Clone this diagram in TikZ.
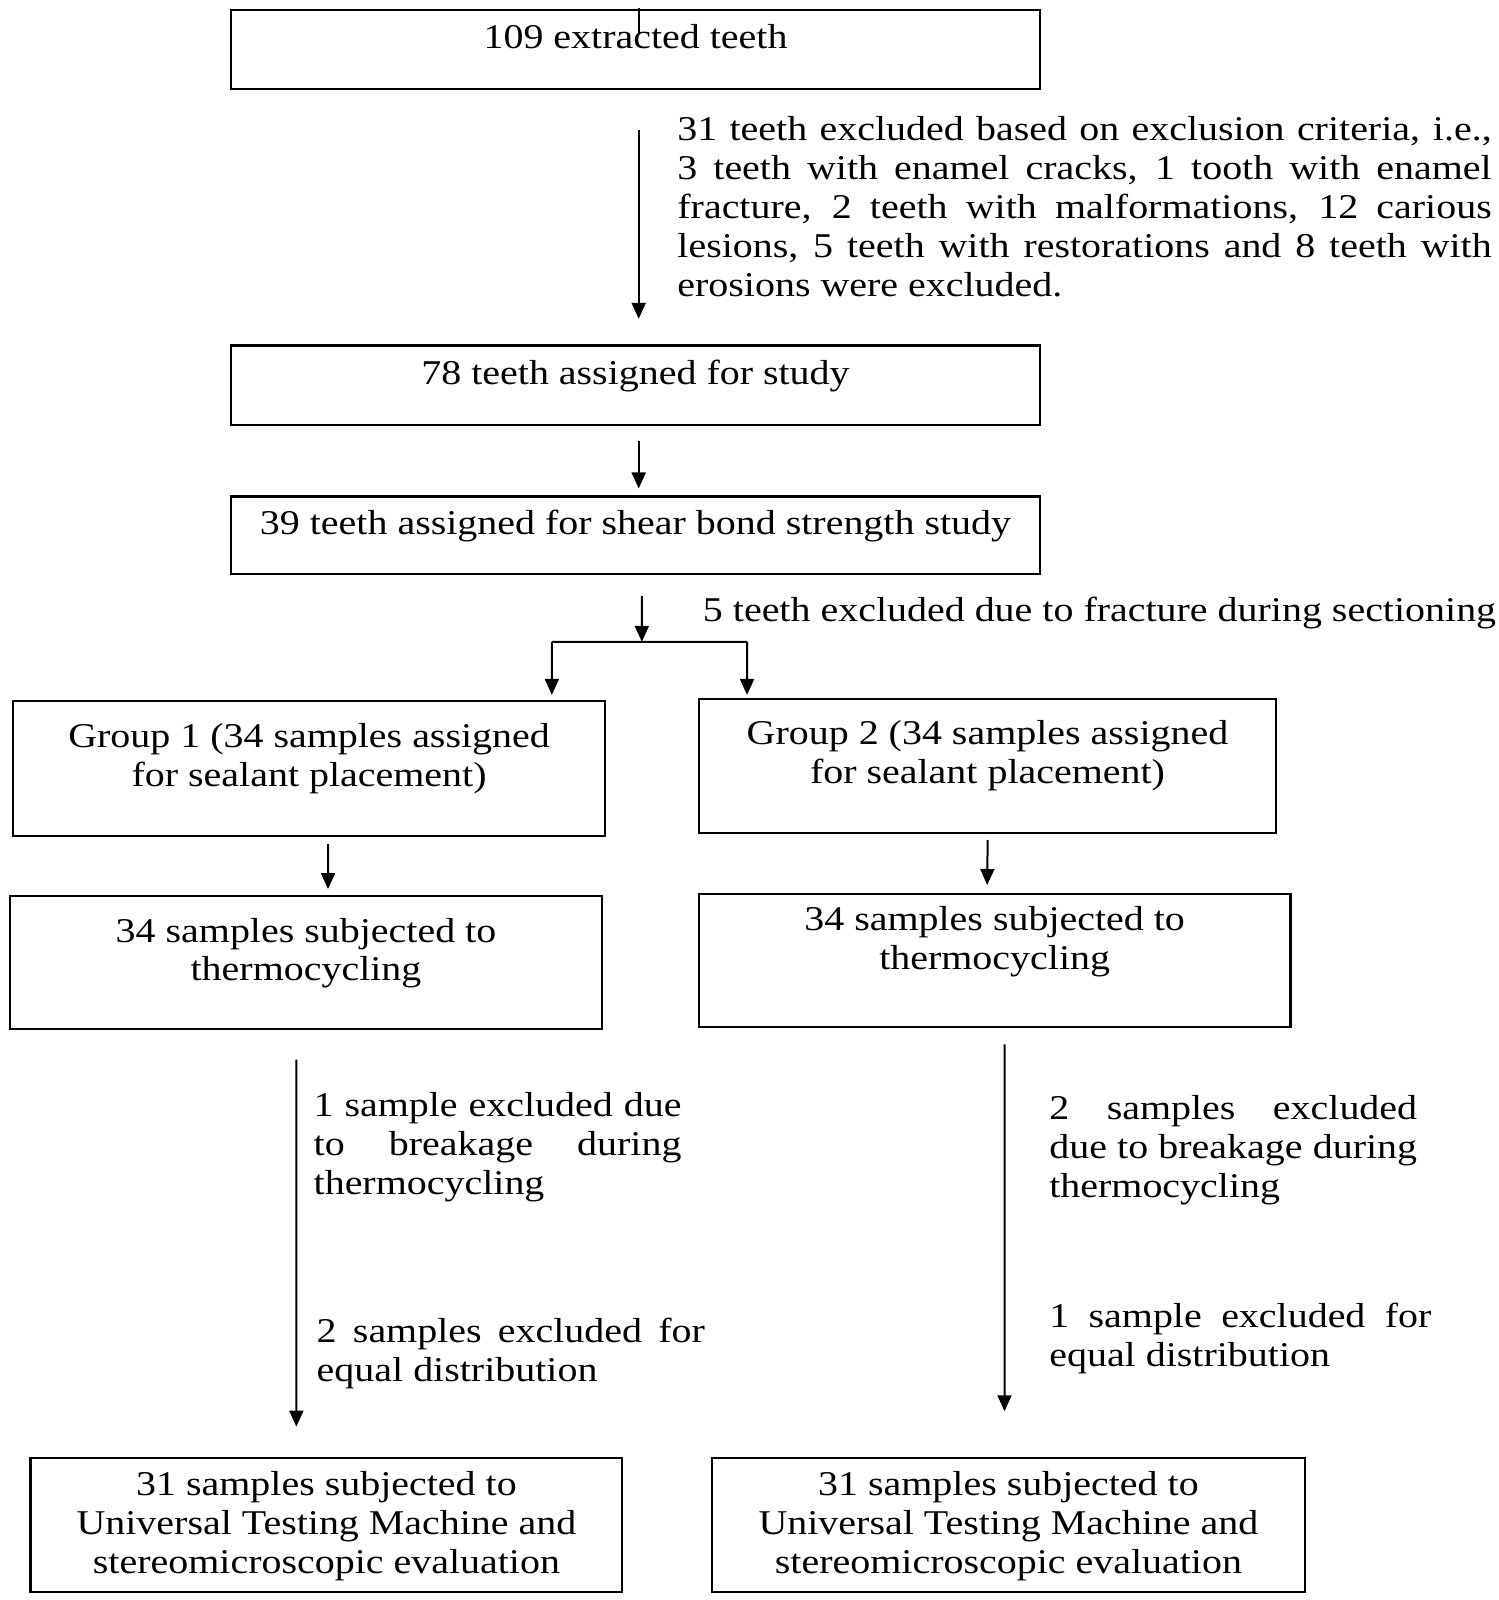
\documentclass[tikz,border=0pt]{standalone}
\usepackage{fontspec}
\setmainfont{Liberation Serif}[FakeStretch=1.15]
\usetikzlibrary{arrows.meta,calc}
\newcommand\bt[4]{\parbox[c][#2][t]{#1}{\centering\rule{0pt}{#3}#4\par}}
\newcommand\jt[2]{\parbox[t]{#1}{\rule{0pt}{12pt}#2\par}}
\begin{document}
\begin{tikzpicture}[x=0.5pt,y=-0.5pt,scale=1.0218,every node/.append style={transform shape},
  box/.style={draw=black,line width=1.2pt,inner sep=0pt,outer sep=0pt,anchor=north west,
    font=\fontsize{17}{19}\selectfont},
  side/.style={inner sep=0pt,outer sep=0pt,anchor=base west,font=\fontsize{17}{19}\selectfont},
  arr/.style={line width=1pt,-{Triangle[width=7pt,length=8pt]}},
  ln/.style={line width=1pt}]
\useasboundingbox (0,0) rectangle (1467,1566);

% boxes
\node[box] (b1) at (226,10) {\bt{396pt}{38.5pt}{18.5pt}{109 extracted teeth}};
\node[box] (b2) at (226,338) {\bt{396pt}{39pt}{19pt}{78 teeth assigned for study}};
\node[box] (b3) at (226,486) {\bt{396pt}{38pt}{18.5pt}{39 teeth assigned for shear bond strength study}};
\node[box] (g1) at (13,686) {\bt{289.5pt}{66pt}{23pt}{Group 1 (34 samples assigned\\for sealant placement)}};
\node[box] (g2) at (684,684) {\bt{282.5pt}{65.5pt}{22.5pt}{Group 2 (34 samples assigned\\for sealant placement)}};
\node[box] (t1) at (10,877) {\bt{289.5pt}{65pt}{22.5pt}{34 samples subjected to\\thermocycling}};
\node[box] (t2) at (684,875) {\bt{289.5pt}{65pt}{18pt}{34 samples subjected to\\thermocycling}};
\node[box] (u1) at (30,1427) {\bt{289.5pt}{65.5pt}{18.5pt}{31 samples subjected to\\Universal Testing Machine and\\stereomicroscopic evaluation}};
\node[box] (u2) at (697,1427) {\bt{290pt}{65.5pt}{18.5pt}{31 samples subjected to\\Universal Testing Machine and\\stereomicroscopic evaluation}};

% side texts
\node[side] (e1) at (663,138) {\jt{398.5pt}{31 teeth excluded based on exclusion criteria, i.e.,\linebreak
3 teeth with enamel cracks, 1 tooth with enamel\linebreak
fracture, 2 teeth with malformations, 12 carious\linebreak
lesions, 5 teeth with restorations and 8 teeth with\linebreak
erosions were excluded.}};
\node[side] (e2) at (688,608) {5 teeth excluded due to fracture during sectioning};
\node[side] (e3) at (307,1093) {\jt{180pt}{1 sample excluded due\linebreak to breakage during\linebreak thermocycling}};
\node[side] (e4) at (310,1314) {\jt{190pt}{2 samples excluded for\linebreak equal distribution}};
\node[side] (e5) at (1027,1096) {\jt{180pt}{2 samples excluded\linebreak due to breakage during\linebreak thermocycling}};
\node[side] (e6) at (1027,1299) {\jt{187pt}{1 sample excluded for\linebreak equal distribution}};

% tick on top box
\draw[ln] ($(b1.north)+(3,-2)$) -- ($(b1.north)+(3,22)$);

% connectors
\draw[arr] ($(b1.south)+(3,40)$) -- ($(b2.north)+(3,-26)$);
\draw[arr] ($(b2.south)+(3,16)$) -- ($(b3.north)+(3,-8)$);
\coordinate (bm) at ($(b3.south)+(6,66)$);
\coordinate (bl) at ($(g1.north east)+(-52,-58)$);
\coordinate (br) at ($(g2.north west)+(47,-56)$);
\draw[arr] ($(b3.south)+(6,21)$) -- (bm);
\draw[ln] (bl) -- (bm) -- (br);
\draw[arr] (bl) -- ($(g1.north east)+(-52,-6)$);
\draw[arr] (br) -- ($(g2.north west)+(47,-4)$);
\draw[arr] ($(g1.south)+(18.5,8)$) -- ($(t1.north)+(21.5,-7)$);
\draw[arr] ($(g2.south)+(0,7)$) -- ($(t2.north)+(-7.5,-9)$);
\draw[arr] ($(t1.south)+(-9.5,30)$) -- ($(u1.north)+(-29.5,-31)$);
\draw[arr] ($(t2.south)+(9.5,17)$) -- ($(u2.north)+(-4,-46)$);
\end{tikzpicture}
\end{document}
